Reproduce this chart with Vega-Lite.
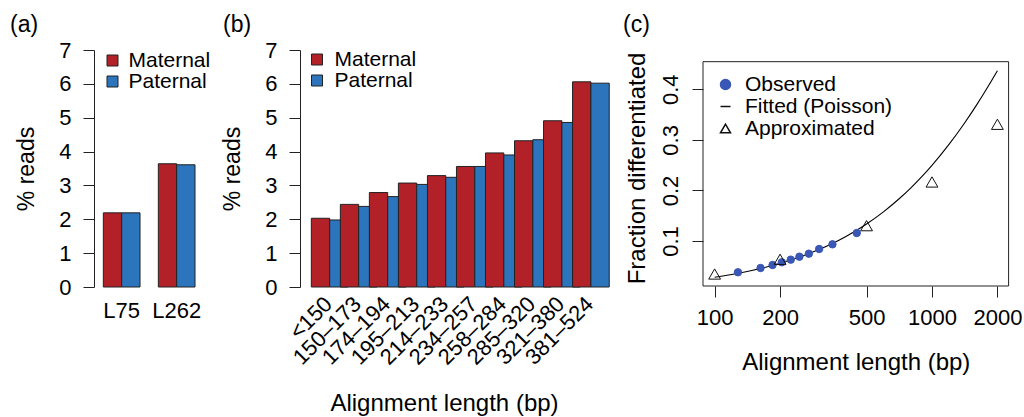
{
  "$schema": "https://vega.github.io/schema/vega-lite/v6.json",
  "background": "white",
  "padding": {"left": 10, "top": 14, "right": 3, "bottom": 0},
  "bounds": "flush",
  "spacing": 98,
  "config": {
    "font": "Liberation Sans",
    "view": {"stroke": null},
    "axis": {"labelFont": "Liberation Sans", "titleFont": "Liberation Sans", "labelColor": "black", "titleColor": "black", "labelFontSize": 22, "titleFontSize": 23, "titleFontWeight": "normal", "domainColor": "#222", "tickColor": "#222", "grid": false, "domainWidth": 1, "tickWidth": 1, "labelOverlap": false, "labelFlush": false},
    "legend": {"labelFont": "Liberation Sans", "labelColor": "black", "labelFontSize": 21},
    "title": {"font": "Liberation Sans", "fontSize": 23, "fontWeight": "normal", "color": "black", "anchor": "start", "frame": "group"}
  },
  "resolve": {
    "scale": {"color": "independent", "x": "independent", "y": "independent", "shape": "independent", "fill": "independent", "stroke": "independent"},
    "legend": {"color": "independent", "shape": "independent", "fill": "independent", "stroke": "independent"}
  },
  "hconcat": [
    {
      "title": {"text": "(a)", "dx": -84, "offset": 2},
      "width": 107.5,
      "height": 237,
      "data": {"values": [
        {"lib": "L75", "parent": "Maternal", "pct": 2.19},
        {"lib": "L75", "parent": "Paternal", "pct": 2.19},
        {"lib": "L262", "parent": "Maternal", "pct": 3.64},
        {"lib": "L262", "parent": "Paternal", "pct": 3.61}
      ]},
      "mark": {"type": "bar", "stroke": "#222", "strokeWidth": 1},
      "encoding": {
        "x": {"field": "lib", "type": "nominal", "sort": null, "scale": {"paddingInner": 0.333, "paddingOuter": 0.144, "align": 0.59}, "axis": {"title": null, "labelAngle": 0, "ticks": false, "tickSize": 0, "domain": false, "labelPadding": 13}},
        "xOffset": {"field": "parent", "type": "nominal", "scale": {"paddingInner": 0, "paddingOuter": 0}},
        "y": {"field": "pct", "type": "quantitative", "scale": {"domain": [0, 7], "nice": false}, "axis": {"title": "% reads", "values": [0, 1, 2, 3, 4, 5, 6, 7], "tickSize": 11, "labelPadding": 12, "titlePadding": 20}},
        "color": {"field": "parent", "type": "nominal", "scale": {"domain": ["Maternal", "Paternal"], "range": ["#b22028", "#2c74bc"]}, "legend": {"title": null, "orient": "none", "legendX": 8, "legendY": 0, "symbolType": "square", "symbolSize": 121, "symbolStrokeColor": "#222", "symbolStrokeWidth": 1, "labelOffset": 5.5, "padding": 0, "rowPadding": -2}}
      }
    },
    {
      "title": {"text": "(b)", "dx": -77, "offset": 2},
      "width": 304.2,
      "height": 237,
      "data": {"values": [
        {"bin": "<150", "parent": "Maternal", "pct": 2.03},
        {"bin": "<150", "parent": "Paternal", "pct": 1.98},
        {"bin": "150–173", "parent": "Maternal", "pct": 2.44},
        {"bin": "150–173", "parent": "Paternal", "pct": 2.38},
        {"bin": "174–194", "parent": "Maternal", "pct": 2.79},
        {"bin": "174–194", "parent": "Paternal", "pct": 2.67},
        {"bin": "195–213", "parent": "Maternal", "pct": 3.07},
        {"bin": "195–213", "parent": "Paternal", "pct": 3.03},
        {"bin": "214–233", "parent": "Maternal", "pct": 3.29},
        {"bin": "214–233", "parent": "Paternal", "pct": 3.24},
        {"bin": "234–257", "parent": "Maternal", "pct": 3.56},
        {"bin": "234–257", "parent": "Paternal", "pct": 3.56},
        {"bin": "258–284", "parent": "Maternal", "pct": 3.96},
        {"bin": "258–284", "parent": "Paternal", "pct": 3.90},
        {"bin": "285–320", "parent": "Maternal", "pct": 4.32},
        {"bin": "285–320", "parent": "Paternal", "pct": 4.35},
        {"bin": "321–380", "parent": "Maternal", "pct": 4.91},
        {"bin": "321–380", "parent": "Paternal", "pct": 4.86},
        {"bin": "381–524", "parent": "Maternal", "pct": 6.06},
        {"bin": "381–524", "parent": "Paternal", "pct": 6.02}
      ]},
      "mark": {"type": "bar", "stroke": "#222", "strokeWidth": 1},
      "encoding": {
        "x": {"field": "bin", "type": "nominal", "sort": null, "scale": {"paddingInner": 0.3, "paddingOuter": 0.39}, "axis": {"title": "Alignment length (bp)", "titleFontSize": 24, "titleX": 144, "labelAngle": -45, "labelAlign": "right", "labelBaseline": "top", "ticks": false, "tickSize": 0, "domain": false, "labelPadding": 6, "titlePadding": 23}},
        "xOffset": {"field": "parent", "type": "nominal", "scale": {"paddingInner": 0, "paddingOuter": 0}},
        "y": {"field": "pct", "type": "quantitative", "scale": {"domain": [0, 7], "nice": false}, "axis": {"title": "% reads", "values": [0, 1, 2, 3, 4, 5, 6, 7], "tickSize": 11, "labelPadding": 12, "titlePadding": 20}},
        "color": {"field": "parent", "type": "nominal", "scale": {"domain": ["Maternal", "Paternal"], "range": ["#b22028", "#2c74bc"]}, "legend": {"title": null, "orient": "none", "legendX": 6.5, "legendY": -1, "symbolType": "square", "symbolSize": 121, "symbolStrokeColor": "#222", "symbolStrokeWidth": 1, "labelOffset": 7, "padding": 0, "rowPadding": -2}}
      }
    },
    {
      "title": {"text": "(c)", "dx": -80, "offset": 13},
      "width": 305.6,
      "height": 236,
      "layer": [
        {
          "data": {"values": [{"box": 1}]},
          "mark": {"type": "rect", "fill": "transparent", "stroke": "#222", "strokeWidth": 1},
          "encoding": {
            "x": {"datum": 88.4, "type": "quantitative", "scale": {"type": "log", "domain": [88.4, 2252], "nice": false}, "axis": {"title": "Alignment length (bp)", "titleFontSize": 24, "values": [100, 200, 500, 1000, 2000], "format": "d", "domain": false, "tickSize": 11, "labelPadding": 10, "titlePadding": 22}},
            "x2": {"datum": 2252},
            "y": {"datum": 0.011, "type": "quantitative", "scale": {"domain": [0.011, 0.4777], "nice": false, "zero": false}, "axis": {"title": "Fraction differentiated", "titleFontSize": 24, "values": [0.1, 0.2, 0.3, 0.4], "format": ".1f", "domain": false, "tickSize": 11, "labelAngle": -90, "labelAlign": "center", "labelBaseline": "bottom", "labelPadding": 10, "titlePadding": 10}},
            "y2": {"datum": 0.4546}
          }
        },
        {
          "data": {"values": [
            {"L": 100, "frac": 0.0283}, {"L": 125, "frac": 0.0352}, {"L": 150, "frac": 0.0421},
            {"L": 175, "frac": 0.0490}, {"L": 200, "frac": 0.0558}, {"L": 250, "frac": 0.0692},
            {"L": 300, "frac": 0.0825}, {"L": 350, "frac": 0.0956}, {"L": 400, "frac": 0.1085},
            {"L": 450, "frac": 0.1212}, {"L": 500, "frac": 0.1337}, {"L": 600, "frac": 0.1582},
            {"L": 700, "frac": 0.1820}, {"L": 800, "frac": 0.2051}, {"L": 900, "frac": 0.2276},
            {"L": 1000, "frac": 0.2495}, {"L": 1200, "frac": 0.2914}, {"L": 1400, "frac": 0.3309},
            {"L": 1600, "frac": 0.3682}, {"L": 1800, "frac": 0.4035}, {"L": 2000, "frac": 0.4367}
          ]},
          "mark": {"type": "line", "color": "black", "strokeWidth": 1.1, "interpolate": "monotone"},
          "encoding": {
            "x": {"field": "L", "type": "quantitative"},
            "y": {"field": "frac", "type": "quantitative"}
          }
        },
        {
          "data": {"values": [
            {"L": 128, "frac": 0.0381, "series": "Observed"},
            {"L": 162.7, "frac": 0.0466, "series": "Observed"},
            {"L": 184.7, "frac": 0.0525, "series": "Observed"},
            {"L": 203.7, "frac": 0.0579, "series": "Observed"},
            {"L": 224, "frac": 0.0631, "series": "Observed"},
            {"L": 245.5, "frac": 0.069, "series": "Observed"},
            {"L": 271.3, "frac": 0.0749, "series": "Observed"},
            {"L": 302.6, "frac": 0.0842, "series": "Observed"},
            {"L": 348.4, "frac": 0.0934, "series": "Observed"},
            {"L": 450.8, "frac": 0.1158, "series": "Observed"}
          ]},
          "mark": {"type": "point", "filled": false, "opacity": 1, "strokeWidth": 1, "size": 55},
          "encoding": {
            "x": {"field": "L", "type": "quantitative"},
            "y": {"field": "frac", "type": "quantitative"},
            "shape": {"field": "series", "type": "nominal", "scale": {"domain": ["Observed", "Fitted (Poisson)", "Approximated"], "range": ["circle", "stroke", "triangle-up"]}, "legend": {"title": null, "orient": "none", "legendX": 12, "legendY": 24, "padding": 0, "rowPadding": 0, "labelOffset": 9, "labelFontSize": 21, "symbolSize": 100, "symbolStrokeWidth": 1.5}},
            "fill": {"field": "series", "type": "nominal", "scale": {"domain": ["Observed", "Fitted (Poisson)", "Approximated"], "range": ["#3a57b5", "transparent", "transparent"]}, "legend": {"title": null, "orient": "none", "legendX": 12, "legendY": 24, "padding": 0, "rowPadding": 0, "labelOffset": 9, "labelFontSize": 21, "symbolSize": 100, "symbolStrokeWidth": 1.5}},
            "stroke": {"field": "series", "type": "nominal", "scale": {"domain": ["Observed", "Fitted (Poisson)", "Approximated"], "range": ["#3a57b5", "#111111", "#111111"]}, "legend": {"title": null, "orient": "none", "legendX": 12, "legendY": 24, "padding": 0, "rowPadding": 0, "labelOffset": 9, "labelFontSize": 21, "symbolSize": 100, "symbolStrokeWidth": 1.5}}
          }
        },
        {
          "data": {"values": [
            {"L": 100, "frac": 0.0347, "series": "Approximated"},
            {"L": 200, "frac": 0.0638, "series": "Approximated"},
            {"L": 500, "frac": 0.1303, "series": "Approximated"},
            {"L": 1000, "frac": 0.2167, "series": "Approximated"},
            {"L": 2000, "frac": 0.3308, "series": "Approximated"}
          ]},
          "mark": {"type": "point", "filled": false, "opacity": 1, "strokeWidth": 1, "size": 140},
          "encoding": {
            "x": {"field": "L", "type": "quantitative"},
            "y": {"field": "frac", "type": "quantitative"},
            "shape": {"field": "series", "type": "nominal", "scale": {"domain": ["Observed", "Fitted (Poisson)", "Approximated"], "range": ["circle", "stroke", "triangle-up"]}},
            "fill": {"field": "series", "type": "nominal", "scale": {"domain": ["Observed", "Fitted (Poisson)", "Approximated"], "range": ["#3a57b5", "transparent", "transparent"]}},
            "stroke": {"field": "series", "type": "nominal", "scale": {"domain": ["Observed", "Fitted (Poisson)", "Approximated"], "range": ["#3a57b5", "#111111", "#111111"]}}
          }
        }
      ]
    }
  ]
}
